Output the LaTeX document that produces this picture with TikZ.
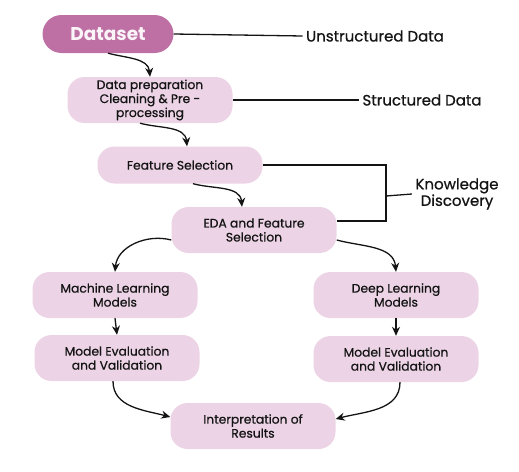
\documentclass[tikz,border=0pt]{standalone}
\usepackage{fontspec}
\setmainfont{Poppins}
\newfontfamily\stepfont{Poppins}[RawFeature={embolden=0.7}]
\usetikzlibrary{arrows.meta}
\definecolor{datafill}{HTML}{BE70A4}
\definecolor{stepfill}{HTML}{ECD4E6}
\definecolor{ink}{HTML}{141414}
\begin{document}
\begin{tikzpicture}[x=1pt,y=1pt,
    stepbox/.style={fill=stepfill,rounded corners=17pt,align=center,
      minimum width=165pt,minimum height=46pt,inner sep=1pt,text=ink,
      font=\stepfont\fontsize{12.3}{14}\selectfont},
    databox/.style={fill=datafill,rounded corners=19pt,minimum width=131pt,
      minimum height=38pt,text=white!92!datafill,font=\fontsize{18.5}{20}\selectfont\bfseries},
    side/.style={text=ink,align=center,font=\stepfont\fontsize{15}{16.5}\selectfont},
    link/.style={line width=1.3pt,draw=ink}]
  \useasboundingbox (0,0) rectangle (519,-471);
  \draw
    (108,-34) node[databox] (data){Dataset}
    (150,-100) node[stepbox] (prep){Data preparation\\Cleaning \& Pre -\\processing}
    (180,-165) node[stepbox,minimum height=37pt] (feat){Feature Selection}
    (254,-230) node[stepbox] (eda){EDA and Feature\\Selection}
    (115,-295) node[stepbox] (ml){Machine Learning\\Models}
    (396,-295) node[stepbox] (dl){Deep Learning\\Models}
    (117,-358) node[stepbox] (mlval){Model Evaluation\\and Validation}
    (396,-359) node[stepbox] (dlval){Model Evaluation\\and Validation}
    (253,-426) node[stepbox] (res){Interpretation of\\Results}
    (375,-36) node[side] (raw){Unstructured Data}
    (422,-100) node[side] (clean){Structured Data}
    (457,-194) node[side] (know){Knowledge\\Discovery};
  \coordinate (kd) at (386,-196);
  \begin{scope}[link]
    \draw (data.east) -- (raw.west);
    \draw (prep.east) -- (clean.west);
    \draw (feat.east) -| (kd) |- ([yshift=9pt]eda.east);
    \draw (kd) -- (know.west);
  \end{scope}
  \begin{scope}[link,-{Stealth[length=9pt,width=8pt]}]
    \draw (data.south) to[out=-15,in=95] (prep.north);
    \draw ([xshift=-10pt]prep.south) to[out=-15,in=95] ([xshift=7pt]feat.north);
    \draw ([xshift=13pt]feat.south) to[out=-15,in=95] ([xshift=-12pt]eda.north);
    \draw ([yshift=-10pt]eda.west) to[out=165,in=85] (ml.north);
    \draw ([yshift=-10pt]eda.east) to[out=-15,in=95] (dl.north);
    \draw (ml.south) -- (mlval.north);
    \draw (dl.south) -- (dlval.north);
    \draw ([xshift=-4pt]mlval.south) to[out=-90,in=165] ([yshift=9pt]res.west);
    \draw ([xshift=4pt]dlval.south) to[out=-90,in=15] ([yshift=7pt]res.east);
  \end{scope}
\end{tikzpicture}
\end{document}
